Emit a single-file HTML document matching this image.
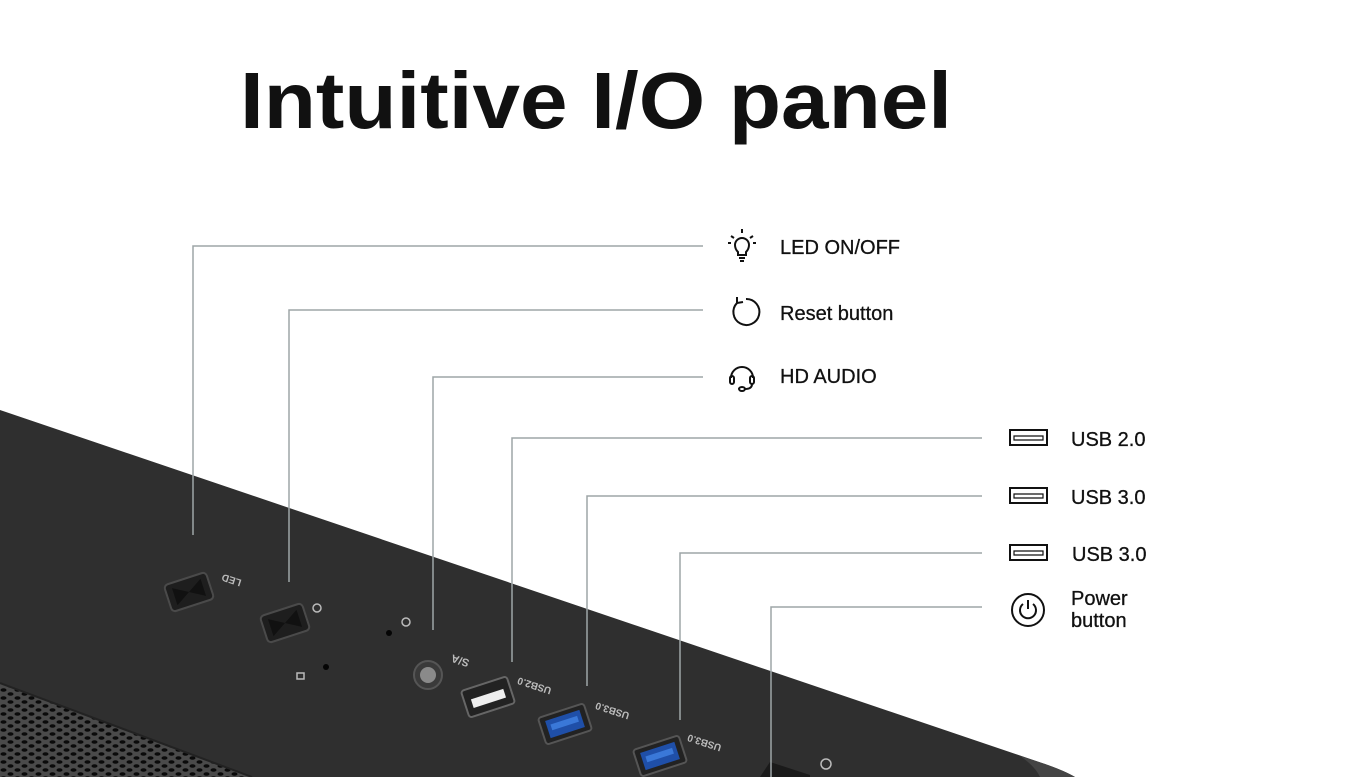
<!DOCTYPE html>
<html><head><meta charset="utf-8"><style>
html,body{margin:0;padding:0;background:#fff;}
svg{display:block}
</style></head><body>
<svg width="1370" height="777" viewBox="0 0 1370 777" xmlns="http://www.w3.org/2000/svg" font-family="Liberation Sans, sans-serif">
<defs>
<pattern id="mesh" width="14" height="8" patternUnits="userSpaceOnUse">
<rect width="14" height="8" fill="#4a4a4a"/>
<ellipse cx="3.5" cy="2" rx="3" ry="1.8" fill="#0a0a0a"/>
<ellipse cx="10.5" cy="6" rx="3" ry="1.8" fill="#0a0a0a"/>
</pattern>
</defs>
<text x="240" y="128" font-size="80" font-weight="bold" fill="#111" textLength="712" lengthAdjust="spacingAndGlyphs">Intuitive I/O panel</text>

<!-- case -->
<path d="M0,410 L1045,764 Q1065,771 1075,777 L0,777 Z" fill="#2f2f2f"/>
<path d="M1020,756 L1045,764 Q1065,771 1075,777 L1040,777 Q1035,766 1020,756Z" fill="#444"/>
<path d="M0,683 L252,777 L0,777 Z" fill="url(#mesh)"/>
<path d="M0,683 L252,777" stroke="#222" stroke-width="2"/>

<!-- buttons -->
<g transform="translate(189,592) rotate(-18)">
<rect x="-22" y="-14" width="44" height="28" rx="4" fill="#1e1e1e" stroke="#4a4a4a" stroke-width="2"/>
<path d="M-15,-9 L0,0 L-15,9Z M15,-9 L0,0 L15,9Z" fill="#111"/>
</g>
<g transform="translate(285,623) rotate(-18)">
<rect x="-22" y="-14" width="44" height="28" rx="4" fill="#1e1e1e" stroke="#4a4a4a" stroke-width="2"/>
<path d="M-15,-9 L0,0 L-15,9Z M15,-9 L0,0 L15,9Z" fill="#111"/>
</g>
<text transform="translate(242,580) rotate(198)" font-size="10" font-weight="bold" fill="#bbb">LED</text>
<circle cx="389" cy="633" r="3" fill="#050505"/>
<circle cx="326" cy="667" r="3" fill="#050505"/>
<circle cx="317" cy="608" r="4" fill="none" stroke="#bbb" stroke-width="1.5"/>
<circle cx="406" cy="622" r="4" fill="none" stroke="#bbb" stroke-width="1.5"/>
<rect x="297" y="673" width="7" height="6" fill="none" stroke="#bbb" stroke-width="1.5"/>
<circle cx="428" cy="675" r="14" fill="#3a3a3a" stroke="#555" stroke-width="2"/>
<circle cx="428" cy="675" r="8" fill="#8a8a8a"/>
<text transform="translate(470,660) rotate(198)" font-size="11" font-weight="bold" fill="#bbb">S/A</text>
<g transform="translate(488,697) rotate(-18)">
<rect x="-24" y="-14" width="48" height="28" rx="3" fill="#222" stroke="#666" stroke-width="2"/>
<rect x="-17" y="-3" width="34" height="9" fill="#eee"/>
</g>
<text transform="translate(552,688) rotate(198)" font-size="10" font-weight="bold" fill="#bbb">USB2.0</text>
<g transform="translate(565,724) rotate(-18)">
<rect x="-24" y="-14" width="48" height="28" rx="3" fill="#222" stroke="#555" stroke-width="2"/>
<rect x="-18" y="-9" width="36" height="18" fill="#1f4fa8"/>
<rect x="-14" y="-4" width="28" height="6" fill="#3a78d8"/>
</g>
<text transform="translate(630,713) rotate(198)" font-size="10" font-weight="bold" fill="#bbb">USB3.0</text>
<g transform="translate(660,756) rotate(-18)">
<rect x="-24" y="-14" width="48" height="28" rx="3" fill="#222" stroke="#555" stroke-width="2"/>
<rect x="-18" y="-9" width="36" height="18" fill="#1f4fa8"/>
<rect x="-14" y="-4" width="28" height="6" fill="#3a78d8"/>
</g>
<text transform="translate(722,745) rotate(198)" font-size="10" font-weight="bold" fill="#bbb">USB3.0</text>
<path d="M760,777 L770,762 L810,775 L810,777Z" fill="#1a1a1a"/>
<circle cx="826" cy="764" r="5" fill="none" stroke="#bbb" stroke-width="1.5"/>

<!-- connectors -->
<g fill="none" stroke="#9ea5a7" stroke-width="1.5">
<polyline points="193,535 193,246 703,246"/>
<polyline points="289,582 289,310 703,310"/>
<polyline points="433,630 433,377 703,377"/>
<polyline points="512,662 512,438 982,438"/>
<polyline points="587,686 587,496 982,496"/>
<polyline points="680,720 680,553 982,553"/>
<polyline points="771,777 771,607 982,607"/>
</g>

<!-- left icons -->
<g fill="none" stroke="#111" stroke-width="2">
<path d="M735,245 a7,7 0 1 1 14,0 q0,4 -3,7 l0,3 h-8 l0,-3 q-3,-3 -3,-7z"/>
<path d="M739,258 h6 M740,261 h4 M742,229 v4 M731,236 l3,2 M753,236 l-3,2 M728,243 h3 M753,243 h3"/>
<path d="M737,303 a13,13 0 1 0 9,-4 M737,303 l0,-6 M737,303 l6,-1"/>
<path d="M731,378 a11,11 0 0 1 22,0"/>
<rect x="730" y="376" width="4" height="8" rx="2"/>
<rect x="750" y="376" width="4" height="8" rx="2"/>
<path d="M752,384 q0,5 -7,5"/>
<ellipse cx="742" cy="389" rx="3" ry="2"/>
</g>
<g font-size="20" fill="#111" stroke="#111" stroke-width="0.3">
<text x="780" y="254">LED ON/OFF</text>
<text x="780" y="320">Reset button</text>
<text x="780" y="383">HD AUDIO</text>
<text x="1071" y="446">USB 2.0</text>
<text x="1071" y="504">USB 3.0</text>
<text x="1072" y="561">USB 3.0</text>
<text x="1071" y="605">Power</text>
<text x="1071" y="627">button</text>
</g>
<g fill="none" stroke="#111" stroke-width="2">
<rect x="1010" y="430" width="37" height="15"/>
<rect x="1010" y="488" width="37" height="15"/>
<rect x="1010" y="545" width="37" height="15"/>
<path d="M1014,436 h29 v4 h-29z M1014,494 h29 v4 h-29z M1014,551 h29 v4 h-29z" stroke-width="1.2"/>
<circle cx="1028" cy="610" r="16"/>
<path d="M1023,604 a8,8 0 1 0 10,0 M1028,600 v9"/>
</g>
</svg>
</body></html>
